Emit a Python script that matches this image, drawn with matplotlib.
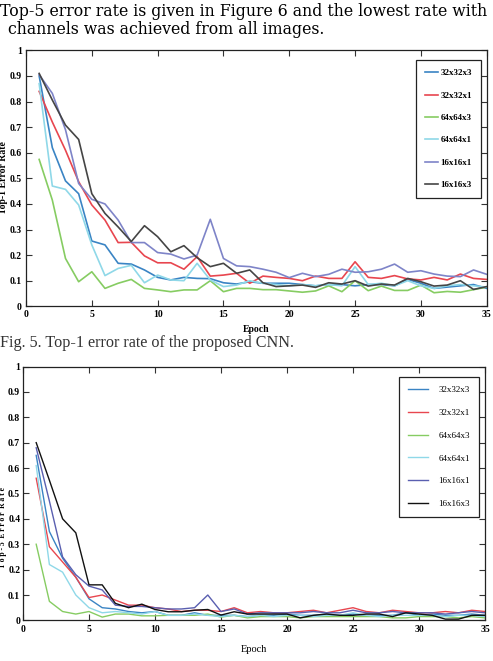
import numpy as np
import matplotlib.pyplot as plt

epochs = np.arange(1, 36)
labels = ['32x32x3', '32x32x1', '64x64x3', '64x64x1', '16x16x1', '16x16x3']

# Top-1 error rate (Fig. 5)
top1_32x32x3 = [0.90, 0.62, 0.49, 0.44, 0.255, 0.24, 0.168, 0.165, 0.142, 0.113, 0.103, 0.113, 0.109, 0.108, 0.092,
                0.087, 0.096, 0.09, 0.09, 0.09, 0.085, 0.08, 0.085, 0.085, 0.08, 0.085, 0.085, 0.08, 0.105, 0.09,
                0.07, 0.075, 0.08, 0.085, 0.07]
top1_32x32x1 = [0.84, 0.72, 0.61, 0.487, 0.396, 0.337, 0.249, 0.25, 0.197, 0.17, 0.17, 0.145, 0.194, 0.118, 0.122,
                0.129, 0.09, 0.118, 0.113, 0.109, 0.10, 0.118, 0.109, 0.109, 0.174, 0.113, 0.109, 0.12, 0.107, 0.103,
                0.113, 0.103, 0.126, 0.109, 0.105]
top1_64x64x3 = [0.574, 0.415, 0.187, 0.096, 0.135, 0.07, 0.09, 0.105, 0.07, 0.064, 0.057, 0.064, 0.064, 0.10, 0.057,
                0.07, 0.07, 0.065, 0.065, 0.06, 0.055, 0.06, 0.08, 0.057, 0.10, 0.061, 0.079, 0.062, 0.062, 0.083,
                0.053, 0.058, 0.055, 0.065, 0.075]
top1_64x64x1 = [0.87, 0.47, 0.457, 0.396, 0.24, 0.12, 0.148, 0.16, 0.092, 0.122, 0.103, 0.10, 0.168, 0.103, 0.077,
                0.083, 0.10, 0.09, 0.085, 0.08, 0.085, 0.08, 0.085, 0.08, 0.155, 0.085, 0.09, 0.08, 0.10, 0.08,
                0.07, 0.08, 0.085, 0.08, 0.075]
top1_16x16x1 = [0.905, 0.832, 0.69, 0.48, 0.418, 0.40, 0.337, 0.249, 0.249, 0.21, 0.204, 0.185, 0.20, 0.34, 0.187,
                0.158, 0.155, 0.145, 0.133, 0.112, 0.129, 0.116, 0.125, 0.145, 0.133, 0.135, 0.145, 0.165, 0.133, 0.139,
                0.126, 0.118, 0.116, 0.142, 0.125]
top1_16x16x3 = [0.91, 0.806, 0.708, 0.652, 0.44, 0.363, 0.31, 0.253, 0.315, 0.272, 0.213, 0.237, 0.19, 0.155, 0.168,
                0.129, 0.142, 0.092, 0.077, 0.08, 0.083, 0.074, 0.092, 0.087, 0.10, 0.079, 0.087, 0.083, 0.109, 0.096,
                0.079, 0.083, 0.10, 0.066, 0.077]

# Top-5 error rate (Fig. 6)
top5_32x32x3 = [0.65, 0.35, 0.245, 0.17, 0.085, 0.05, 0.045, 0.035, 0.03, 0.035, 0.02, 0.02, 0.03, 0.02, 0.02,
                0.02, 0.015, 0.02, 0.02, 0.025, 0.02, 0.02, 0.025, 0.02, 0.025, 0.02, 0.02, 0.02, 0.03, 0.02,
                0.025, 0.02, 0.02, 0.025, 0.02]
top5_32x32x1 = [0.56, 0.29, 0.23, 0.17, 0.09, 0.10, 0.08, 0.06, 0.06, 0.05, 0.045, 0.035, 0.04, 0.04, 0.035,
                0.05, 0.03, 0.035, 0.03, 0.03, 0.035, 0.04, 0.03, 0.04, 0.05, 0.035, 0.03, 0.04, 0.035, 0.03,
                0.03, 0.035, 0.03, 0.04, 0.035]
top5_64x64x3 = [0.30, 0.075, 0.035, 0.025, 0.035, 0.013, 0.025, 0.025, 0.018, 0.018, 0.02, 0.02, 0.02, 0.025, 0.013,
                0.02, 0.01, 0.015, 0.015, 0.015, 0.01, 0.015, 0.015, 0.015, 0.015, 0.015, 0.015, 0.01, 0.01, 0.015,
                0.015, 0.015, 0.01, 0.015, 0.01]
top5_64x64x1 = [0.61, 0.22, 0.19, 0.10, 0.05, 0.03, 0.035, 0.03, 0.025, 0.035, 0.02, 0.02, 0.025, 0.02, 0.015,
                0.02, 0.015, 0.02, 0.015, 0.02, 0.02, 0.015, 0.02, 0.02, 0.03, 0.02, 0.015, 0.02, 0.02, 0.02,
                0.02, 0.015, 0.02, 0.02, 0.015]
top5_16x16x1 = [0.68, 0.47, 0.25, 0.18, 0.135, 0.12, 0.06, 0.055, 0.055, 0.05, 0.045, 0.045, 0.05, 0.10, 0.035,
                0.045, 0.025, 0.03, 0.03, 0.03, 0.03, 0.035, 0.03, 0.03, 0.04, 0.03, 0.03, 0.035, 0.03, 0.03,
                0.03, 0.025, 0.03, 0.035, 0.03]
top5_16x16x3 = [0.70, 0.552, 0.40, 0.345, 0.14, 0.14, 0.067, 0.05, 0.064, 0.043, 0.034, 0.034, 0.04, 0.043, 0.021,
                0.034, 0.025, 0.025, 0.025, 0.025, 0.01, 0.02, 0.025, 0.02, 0.02, 0.025, 0.025, 0.015, 0.03, 0.025,
                0.02, 0.005, 0.005, 0.02, 0.02]

top1 = [top1_32x32x3, top1_32x32x1, top1_64x64x3, top1_64x64x1, top1_16x16x1, top1_16x16x3]
top5 = [top5_32x32x3, top5_32x32x1, top5_64x64x3, top5_64x64x1, top5_16x16x1, top5_16x16x3]

colors1 = ['#3a84c4', '#e8464f', '#86cc62', '#8fd8e8', '#7e84c8', '#454545']
colors5 = ['#3a84c4', '#e8464f', '#86cc62', '#8fd8e8', '#5a5fb0', '#111111']

W, H = 493, 661
fig = plt.figure(figsize=(W / 100, H / 100), dpi=100)

def box(x0, y0, x1, y1):
    # pixel box -> figure fraction
    return [x0 / W, 1 - y1 / H, (x1 - x0) / W, (y1 - y0) / H]

serif = ['Liberation Serif', 'DejaVu Serif']

def style_axes(ax):
    ax.set_xlim(0, 35)
    ax.set_ylim(0, 1)
    ax.set_xticks(np.arange(0, 36, 5))
    ax.set_yticks(np.arange(0, 1.01, 0.1))
    ax.set_yticklabels(['0', '0.1', '0.2', '0.3', '0.4', '0.5', '0.6', '0.7', '0.8', '0.9', '1'])
    ax.tick_params(direction='in', top=True, right=True, length=4, width=0.8, labelsize=7, pad=3,
                   color='#333333')
    for lab in ax.get_xticklabels() + ax.get_yticklabels():
        lab.set_family(serif)
        lab.set_fontweight('bold')
    for s in ax.spines.values():
        s.set_linewidth(0.9)
        s.set_color('#222222')

# Top-1 chart
ax1 = fig.add_axes(box(26, 50.4, 486.7, 306.3))
for vals, c, lab in zip(top1, colors1, labels):
    ax1.plot(epochs, vals, color=c, lw=1.2, label=lab)
style_axes(ax1)
ax1.set_ylabel('Top-1 Error Rate', family=serif, fontweight='bold', fontsize=7)
ax1.yaxis.set_label_coords(-0.039, 0.505)
ax1.set_xlabel('Epoch', family=serif, fontweight='bold', fontsize=7, labelpad=4)
leg1 = ax1.legend(loc='upper right', bbox_to_anchor=(0.988, 0.962), borderaxespad=0, fancybox=False,
                  edgecolor='#222222', framealpha=1, handlelength=1.4, labelspacing=1.55, borderpad=1.0,
                  handletextpad=0.3, prop={'family': serif, 'weight': 'bold', 'size': 6.5})
leg1.get_frame().set_linewidth(0.9)

# Top-5 chart
ax2 = fig.add_axes(box(23, 366.5, 485, 620.4))
for vals, c, lab in zip(top5, colors5, labels):
    ax2.plot(epochs, vals, color=c, lw=1.0, label=lab)
style_axes(ax2)
ax2.tick_params(axis='y', pad=2)
ax2.set_ylabel('T o p - 5  E r r o r  R a t e', family=serif, fontweight='bold', fontsize=5.5)
ax2.yaxis.set_label_coords(-0.035, 0.364)
ax2.set_xlabel('Epoch', family=serif, fontsize=7.5, labelpad=8)
leg2 = ax2.legend(loc='upper right', bbox_to_anchor=(0.987, 0.959), borderaxespad=0, fancybox=False,
                  edgecolor='#222222', framealpha=1, handlelength=2.2, labelspacing=1.6, borderpad=1.0,
                  handletextpad=1.2, prop={'family': serif, 'size': 6.5})
leg2.get_frame().set_linewidth(0.9)

# surrounding page text
fig.text(0, 1 - 11 / H, 'Top-5 error rate is given in Figure 6 and the lowest rate with',
         family=['DejaVu Serif'], fontsize=11.3, va='center', ha='left')
fig.text(8 / W, 1 - 30 / H, 'channels was achieved from all images.',
         family=['DejaVu Serif'], fontsize=11.3, va='center', ha='left')
fig.text(0 / W, 1 - 343 / H, 'Fig. 5. Top-1 error rate of the proposed CNN.',
         family=serif, fontsize=11.6, va='center', ha='left', color='#333333')

fig.savefig('out.png', dpi=100)
